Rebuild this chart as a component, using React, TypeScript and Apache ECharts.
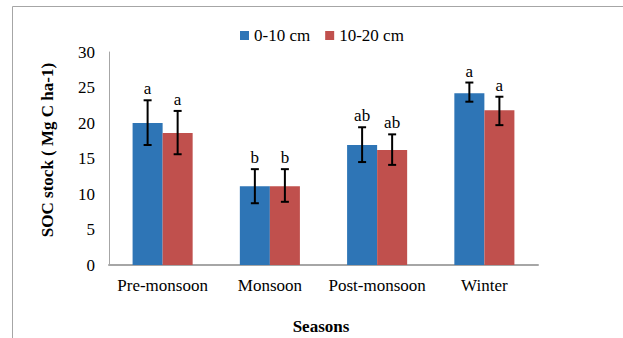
import React, { useEffect, useRef } from "react";
import * as echarts from "echarts";

const categories = ["Pre-monsoon", "Monsoon", "Post-monsoon", "Winter"];
const seriesNames = ["0-10 cm", "10-20 cm"];
const shallow = [20.0, 11.1, 16.9, 24.2];
const deep = [18.6, 11.1, 16.2, 21.8];
const shallowLow = [16.9, 8.7, 14.5, 23.0];
const shallowHigh = [23.2, 13.5, 19.4, 25.7];
const deepLow = [15.6, 8.9, 14.1, 19.7];
const deepHigh = [21.7, 13.5, 18.4, 23.7];
const shallowLetters = ["a", "b", "ab", "a"];
const deepLetters = ["a", "b", "ab", "a"];
const yTicks = [0, 5, 10, 15, 20, 25, 30];
const xTitle = "Seasons";
const yTitle = "SOC stock ( Mg C ha-1)";

const BLUE = "#2E75B6";
const RED = "#C0504D";
const FONT = "Times New Roman";
const FS = 17;

function errorSeries(low: number[], high: number[], letters: string[], side: number) {
  return {
    type: "custom",
    silent: true,
    z: 5,
    data: categories.map((_, i) => [i, low[i], high[i]]),
    renderItem: (params: any, api: any) => {
      const i = api.value(0);
      const band = api.size([1, 0])[0];
      const off = side * band * 0.14;
      const lo = api.coord([i, api.value(1)]);
      const hi = api.coord([i, api.value(2)]);
      const x = lo[0] + off;
      const cap = 4;
      const st = { stroke: "#000", lineWidth: 2 };
      return {
        type: "group",
        children: [
          { type: "line", shape: { x1: x, y1: lo[1], x2: x, y2: hi[1] }, style: st },
          { type: "line", shape: { x1: x - cap, y1: lo[1], x2: x + cap, y2: lo[1] }, style: st },
          { type: "line", shape: { x1: x - cap, y1: hi[1], x2: x + cap, y2: hi[1] }, style: st },
          {
            type: "text",
            x: x,
            y: hi[1] - 3,
            style: {
              text: letters[params.dataIndex],
              fill: "#000",
              fontFamily: FONT,
              fontSize: FS,
              align: "center",
              verticalAlign: "bottom",
            },
          },
        ],
      };
    },
  };
}

export default function App() {
  const ref = useRef<HTMLDivElement>(null);
  useEffect(() => {
    const chart = echarts.init(ref.current!, null, { renderer: "svg" });
    chart.setOption({
      animation: false,
      backgroundColor: "#fff",
      textStyle: { fontFamily: FONT },
      graphic: [
        { type: "line", shape: { x1: 12.5, y1: 6.5, x2: 623, y2: 6.5 }, style: { stroke: "#A6A6A6", lineWidth: 1 } },
        { type: "line", shape: { x1: 12.5, y1: 6.5, x2: 12.5, y2: 338 }, style: { stroke: "#A6A6A6", lineWidth: 1 } },
        {
          type: "text",
          x: 47,
          y: 150,
          rotation: Math.PI / 2,
          style: {
            text: yTitle,
            fill: "#000",
            fontFamily: FONT,
            fontSize: FS,
            fontWeight: "bold",
            align: "center",
            verticalAlign: "middle",
          },
        },
        {
          type: "text",
          x: 321,
          y: 326,
          style: {
            text: xTitle,
            fill: "#000",
            fontFamily: FONT,
            fontSize: FS,
            fontWeight: "bold",
            align: "center",
            verticalAlign: "middle",
          },
        },
      ],
      legend: {
        data: seriesNames,
        left: 235,
        top: 22,
        itemWidth: 9,
        itemHeight: 9,
        itemGap: 15,
        icon: "rect",
        textStyle: { fontFamily: FONT, fontSize: FS, color: "#000" },
      },
      grid: { left: 109, right: 85, top: 52, bottom: 73, containLabel: false, outerBoundsMode: "none" },
      xAxis: {
        type: "category",
        data: categories,
        axisLine: { lineStyle: { color: "#A6A6A6", width: 2 } },
        axisTick: { show: false },
        axisLabel: { interval: 0, fontFamily: FONT, fontSize: FS, color: "#000", margin: 12 },
      },
      yAxis: {
        type: "value",
        min: yTicks[0],
        max: yTicks[yTicks.length - 1],
        interval: 5,
        axisLine: { show: true, lineStyle: { color: "#A6A6A6", width: 1 } },
        axisTick: { show: false },
        splitLine: { show: false },
        axisLabel: { fontFamily: FONT, fontSize: FS, color: "#000", margin: 14 },
      },
      series: [
        {
          name: seriesNames[0],
          type: "bar",
          data: shallow,
          barWidth: "28%",
          barGap: "0%",
          itemStyle: { color: BLUE },
        },
        {
          name: seriesNames[1],
          type: "bar",
          data: deep,
          barWidth: "28%",
          barGap: "0%",
          itemStyle: { color: RED },
        },
        errorSeries(shallowLow, shallowHigh, shallowLetters, -1),
        errorSeries(deepLow, deepHigh, deepLetters, 1),
      ],
    });
    return () => chart.dispose();
  }, []);
  return <div ref={ref} style={{ width: 623, height: 338, position: "absolute", left: 0, top: 0 }} />;
}
